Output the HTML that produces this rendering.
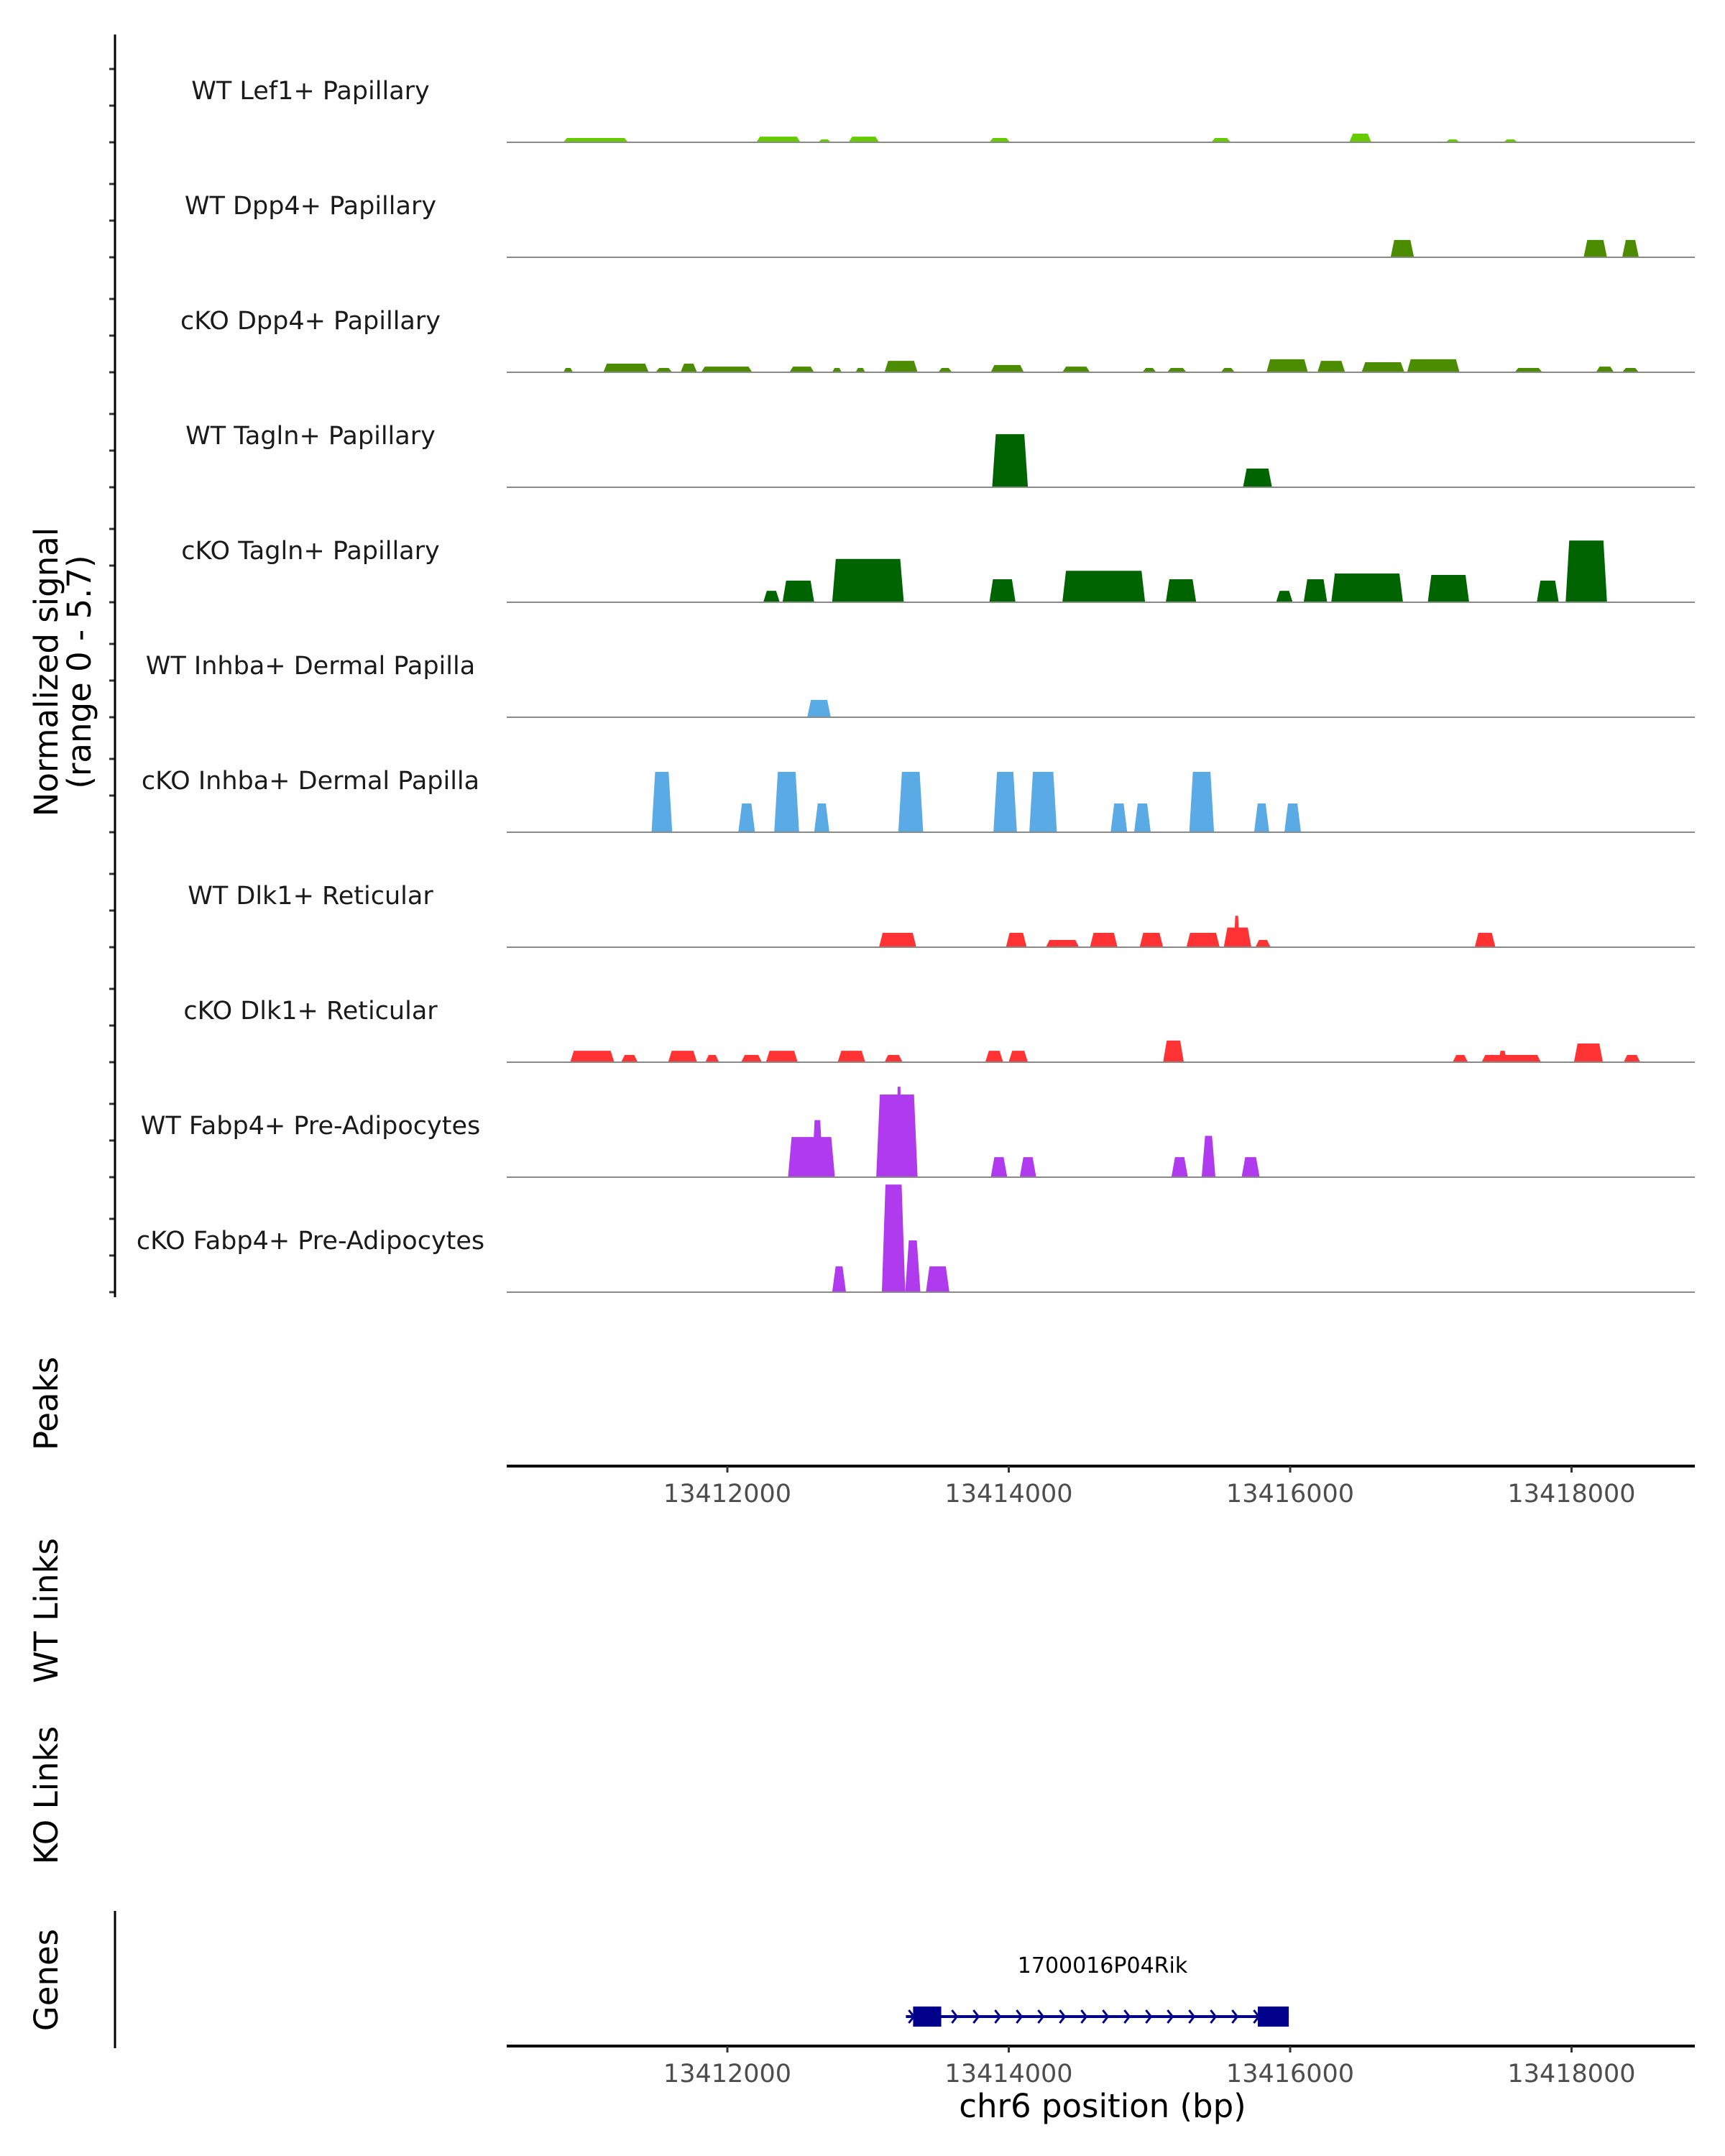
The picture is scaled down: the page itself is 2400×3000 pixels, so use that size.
<!DOCTYPE html>
<html><head><meta charset="utf-8">
<style>
html,body{margin:0;padding:0;background:#fff;}
svg{display:block;font-family:"DejaVu Sans","Liberation Sans",sans-serif;}
</style></head>
<body>
<svg id="chart" width="2400" height="3000" viewBox="0 0 2400 3000" xmlns="http://www.w3.org/2000/svg">
<g id="tracks"></g>
<g id="axes"></g>
</svg>
<script>
// ---- data ----
const trackNames = ["WT Lef1+ Papillary","WT Dpp4+ Papillary","cKO Dpp4+ Papillary","WT Tagln+ Papillary","cKO Tagln+ Papillary","WT Inhba+ Dermal Papilla","cKO Inhba+ Dermal Papilla","WT Dlk1+ Reticular","cKO Dlk1+ Reticular","WT Fabp4+ Pre-Adipocytes","cKO Fabp4+ Pre-Adipocytes"];
const trackColors = ["#66CC00","#4C8C00","#4C8C00","#006400","#006400","#5AAAE6","#5AAAE6","#FF3333","#FF3333","#B03AEE","#B03AEE"];
// peaks per track: [startBp, endBp, signal]
const peaksLef1WT = [[13410834,13411294,0.22],[13412206,13412519,0.29],[13412647,13412735,0.15],[13412862,13413078,0.29],[13413862,13414009,0.22],[13415440,13415577,0.22],[13416420,13416577,0.44],[13417106,13417204,0.15],[13417517,13417615,0.15]];
const peaksDpp4WT = [[13416714,13416880,0.88],[13418086,13418252,0.88],[13418360,13418478,0.88]];
const peaksDpp4KO = [[13410834,13410902,0.22],[13411118,13411441,0.44],[13411490,13411608,0.22],[13411667,13411784,0.44],[13411814,13412176,0.29],[13412441,13412617,0.29],[13412745,13412813,0.22],[13412911,13412980,0.22],[13413117,13413352,0.58],[13413499,13413597,0.22],[13413872,13414107,0.37],[13414381,13414577,0.29],[13414950,13415048,0.22],[13415126,13415263,0.22],[13415508,13415606,0.22],[13415832,13416126,0.66],[13416194,13416390,0.58],[13416508,13416812,0.51],[13416831,13417204,0.66],[13417596,13417792,0.22],[13418174,13418301,0.29],[13418360,13418478,0.22]];
const peaksTaglnWT = [[13413882,13414136,2.7],[13415665,13415871,0.95]];
const peaksTaglnKO = [[13412255,13412372,0.58],[13412392,13412617,1.1],[13412745,13413254,2.2],[13413862,13414048,1.17],[13414381,13414969,1.6],[13415116,13415332,1.17],[13415900,13416018,0.58],[13416096,13416263,1.17],[13416292,13416802,1.46],[13416978,13417272,1.39],[13417753,13417909,1.1],[13417958,13418252,3.14]];
const peaksInhbaWT = [[13412568,13412735,0.88]];
const peaksInhbaKO = [[13411461,13411608,3.07],[13412078,13412196,1.46],[13412333,13412510,3.07],[13412617,13412725,1.46],[13413215,13413392,3.07],[13413891,13414058,3.07],[13414146,13414342,3.07],[13414724,13414842,1.46],[13414891,13415009,1.46],[13415283,13415459,3.07],[13415744,13415851,1.46],[13415959,13416077,1.46]];
const peaksDlk1WT = [[13413078,13413343,0.73],[13413980,13414127,0.73],[13414264,13414499,0.37],[13414577,13414773,0.73],[13414930,13415097,0.73],[13415263,13415499,0.73],[13415528,13415724,1.0],[13415600,13415640,1.6],[13415753,13415861,0.37],[13417312,13417459,0.73]];
const peaksDlk1KO = [[13410883,13411196,0.58],[13411245,13411363,0.37],[13411579,13411784,0.58],[13411843,13411941,0.37],[13412098,13412245,0.37],[13412274,13412500,0.58],[13412784,13412980,0.58],[13413117,13413245,0.37],[13413833,13413960,0.58],[13413999,13414136,0.58],[13415097,13415244,1.1],[13417155,13417263,0.37],[13417361,13417782,0.37],[13417480,13417540,0.58],[13418017,13418223,0.95],[13418370,13418488,0.37]];
const peaksFabp4WT = [[13412431,13412764,2.04],[13412600,13412680,2.9],[13413058,13413352,4.2],[13413200,13413240,4.6],[13413872,13413989,1.02],[13414078,13414195,1.02],[13415156,13415273,1.02],[13415371,13415469,2.1],[13415655,13415783,1.02]];
const peaksFabp4KO = [[13412745,13412843,1.31],[13413098,13413264,5.47],[13413264,13413372,2.63],[13413411,13413578,1.31]];
const trackPeaks = [peaksLef1WT,peaksDpp4WT,peaksDpp4KO,peaksTaglnWT,peaksTaglnKO,peaksInhbaWT,peaksInhbaKO,peaksDlk1WT,peaksDlk1KO,peaksFabp4WT,peaksFabp4KO];
const xTicks = [13412000,13414000,13416000,13418000];
const geneName = "1700016P04Rik";
const geneStart = 13413320, geneEnd = 13415990;
const exons = [[13413320,13413520],[13415770,13415990]];
const signalMax = 5.7;

// ---- scales ----
const NS = "http://www.w3.org/2000/svg";
const plotL = 705, plotR = 2358;
function xScale(bp){ return 1012 + (bp - 13412000) * 391.5 / 2000; }
const base0 = 198, trackStep = 160.0, trackH = 156;
function yScale(v, i){ return base0 + trackStep*i - v / signalMax * trackH; }
function mk(tag, attrs, parent){ const e=document.createElementNS(NS,tag); for(const k in attrs) e.setAttribute(k,attrs[k]); parent.appendChild(e); return e; }

const tracks = document.getElementById('tracks');
const axes = document.getElementById('axes');

trackNames.forEach((name,i)=>{
  const g = mk('g',{},tracks);
  
  
  const base = yScale(0,i);
  trackPeaks[i].forEach(p=>{
    const x0 = xScale(p[0]), x1 = xScale(p[1]), yt = yScale(p[2], i);
    const s = Math.min((x1-x0)*0.25, 5);
    const path = mk('path',{d:`M${x0},${base} L${x0+s},${yt} L${x1-s},${yt} L${x1},${base} Z`, fill:trackColors[i]}, g);
    
    
  });
  const ln = mk('line',{x1:plotL,x2:plotR,y1:base,y2:base,stroke:'#8a8a8a','stroke-width':2},g);
  
  
  const t = mk('text',{x:432,y:base-60,'text-anchor':'middle','font-size':35,fill:'#1a1a1a'},g);
  t.textContent = name;
  
  
  [0,51,102].forEach(d=>{
    const tk = mk('line',{x1:152,x2:160,y1:base-d,y2:base-d,stroke:'#333','stroke-width':3},axes);
    
    
  });
});

const la = mk('line',{x1:160,x2:160,y1:48,y2:1805,stroke:'#000','stroke-width':3},axes);



function yTitle(lines, cy, name){
  const t = mk('text',{transform:`translate(0,${cy}) rotate(-90)`,'text-anchor':'middle','font-size':45,fill:'#000'},axes);
  
  
  lines.forEach((l,j)=>{
    const ts = mk('tspan',{x:0,y:(j===0?80:126)},t);
    ts.textContent = l;
  });
}
yTitle(["Normalized signal","(range 0 - 5.7)"], 935, 'y-axis-title');
yTitle(["Peaks"], 1953, 'peaks-title');
yTitle(["WT Links"], 2241, 'wt-links-title');
yTitle(["KO Links"], 2498, 'ko-links-title');
yTitle(["Genes"], 2755, 'genes-title');

function xAxis(y, name){
  const g = mk('g',{},axes);
  
  
  mk('line',{x1:plotL,x2:plotR,y1:y,y2:y,stroke:'#000','stroke-width':4},g);
  xTicks.forEach(v=>{
    const x = xScale(v);
    mk('line',{x1:x,x2:x,y1:y,y2:y+9,stroke:'#333','stroke-width':3},g);
    const t = mk('text',{x:x,y:y+50,'text-anchor':'middle','font-size':35,fill:'#4D4D4D'},g);
    t.textContent = v;
    
    
  });
}
xAxis(2040, 'peaks-x-axis');
xAxis(2847, 'genes-x-axis');

const xt = mk('text',{x:1534,y:2946,'text-anchor':'middle','font-size':45,fill:'#000'},axes);
xt.textContent = "chr6 position (bp)";



const ga = mk('line',{x1:160,x2:160,y1:2659,y2:2850,stroke:'#000','stroke-width':3},axes);



const gg = mk('g',{},axes);


const gy = 2806;
mk('line',{x1:xScale(geneStart)-10,x2:xScale(geneEnd),y1:gy,y2:gy,stroke:'#00008B','stroke-width':4},gg);
for(let x = xScale(geneStart)-6; x < xScale(geneEnd); x += 30){
  mk('path',{d:`M${x},${gy-9} L${x+7},${gy} L${x},${gy+9}`,fill:'none',stroke:'#00008B','stroke-width':3},gg);
}
exons.forEach(e=>{
  const r = mk('rect',{x:xScale(e[0]),y:gy-14,width:xScale(e[1])-xScale(e[0]),height:28,fill:'#00008B'},gg);
  
  
});
const gl = mk('text',{x:1534,y:2745,'text-anchor':'middle','font-size':30,fill:'#000'},gg);
gl.textContent = geneName;


</script>
</body></html>
